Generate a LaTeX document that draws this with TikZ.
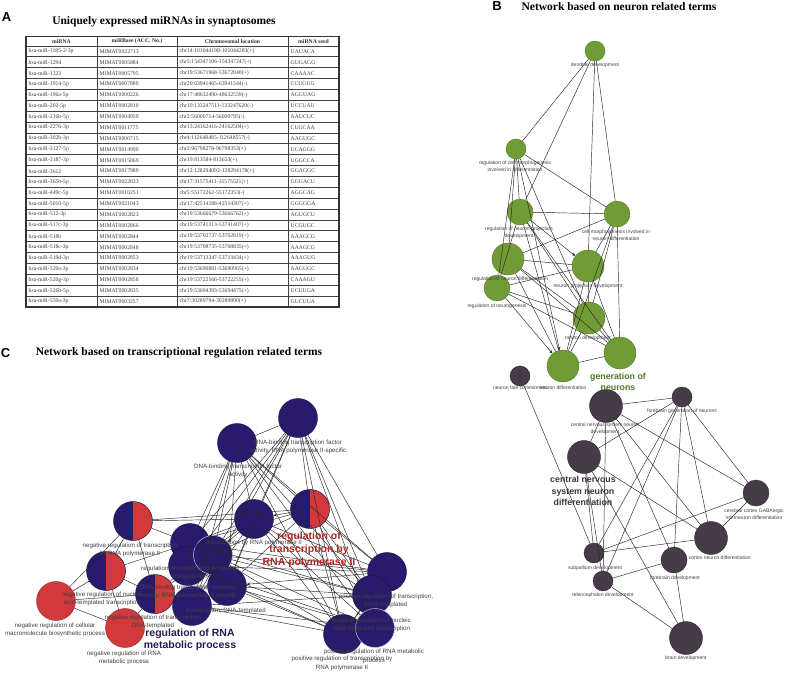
\documentclass[tikz,border=0pt]{standalone}
\usepackage{fontspec}
\setmainfont{Liberation Serif}
\newfontfamily\lsans{Liberation Sans}
\usetikzlibrary{arrows.meta}
\definecolor{gfill}{HTML}{719C35}
\definecolor{gline}{HTML}{557A25}
\definecolor{dfill}{HTML}{463C48}
\definecolor{dline}{HTML}{2E2630}
\definecolor{bfill}{HTML}{2A1A6E}
\definecolor{bline}{HTML}{1A1048}
\definecolor{rfill}{HTML}{D2393A}
\definecolor{glab}{HTML}{4E7A22}
\definecolor{rlab}{HTML}{B0282A}
\definecolor{blab}{HTML}{241C55}
\definecolor{dlab}{HTML}{3B3340}
\tikzset{
  gn/.style={circle, draw=gline, line width=0.4pt, fill=gfill, inner sep=0pt, minimum size=#1},
  dn/.style={circle, draw=dline, line width=0.4pt, fill=dfill, inner sep=0pt, minimum size=#1},
  bn/.style={circle, draw=bline, line width=0.4pt, fill=bfill, inner sep=0pt, minimum size=39pt},
  wn/.style={circle, draw=white!75!bfill, line width=0.5pt, fill=bfill, inner sep=0pt, minimum size=39pt},
  rn/.style={circle, draw=rfill!70!black, line width=0.4pt, fill=rfill, inner sep=0pt, minimum size=39pt},
  hn/.style={circle, draw=bline, line width=0.4pt, fill=bfill, inner sep=0pt, minimum size=39pt,
    path picture={\fill[rfill] (path picture bounding box.north) rectangle (path picture bounding box.south east);}},
  lab/.style={font=\lsans\fontsize{5}{7}\selectfont, text=black!75, align=center, inner sep=0pt},
  labc/.style={font=\lsans\fontsize{6.2}{8.3}\selectfont, text=black!75, align=center, inner sep=0pt},
  edge/.style={draw=black!85, line width=0.45pt},
  aedge/.style={draw=black!85, line width=0.45pt, -{Stealth[length=3.5pt,width=3pt]}},
  tcell/.style={font=\fontsize{5.7}{6}\selectfont, text=black!75, anchor=west, inner sep=0pt},
  thead/.style={font=\bfseries\fontsize{5.7}{6}\selectfont, text=black!80, inner sep=0pt},
  ttl/.style={font=\bfseries\fontsize{11.5}{13}\selectfont, inner sep=0pt},
  plet/.style={font=\lsans\bfseries\fontsize{13}{14}\selectfont, inner sep=0pt}
}
\begin{document}
\begin{tikzpicture}[x=1pt,y=-1pt]
\useasboundingbox[fill=white] (0,0) rectangle (787,672);

% ---------- Panel A ----------
\node[plet] (LA) at (6.5,17) {A};
\node[ttl] (TA) at (164,22) {Uniquely expressed miRNAs in synaptosomes};
\node[thead] (h1) at (61.5,41.3) {miRNA};
\node[thead] (h2) at (137,41.3) {miRBase (ACC. No.)};
\node[thead] (h3) at (232.5,41.3) {Chromosomal location};
\node[thead] (h4) at (313.5,41.3) {miRNA seed};
\foreach \ma/\mb/\mc/\md [count=\i] in {
hsa-miR-1185-2-3p/MIMAT0022713/chr14:101044198-101044283(+)/UAUACA,
hsa-miR-1294/MIMAT0005884/chr5:154347106-154347247(+)/GUGAGG,
hsa-miR-1323/MIMAT0005795/chr19:53671968-53672040(+)/CAAAAC,
hsa-miR-1914-5p/MIMAT0007889/chr20:63941465-63941544(-)/CCUGUG,
hsa-miR-196a-5p/MIMAT0000226/chr17:48632490-48632559(-)/AGGUAG,
hsa-miR-202-5p/MIMAT0002810/chr10:133247511-133247620(-)/UCCUAU,
hsa-miR-216b-5p/MIMAT0004959/chr2:56000714-56000795(-)/AAUCUC,
hsa-miR-2276-3p/MIMAT0011775/chr13:24162416-24162504(+)/CUGCAA,
hsa-miR-302b-3p/MIMAT0000715/chr4:112648485-112648557(-)/AAGUGC,
hsa-miR-3127-5p/MIMAT0014990/chr2:96798278-96798353(+)/UCAGGG,
hsa-miR-3187-3p/MIMAT0015069/chr19:813584-813653(+)/UGGCCA,
hsa-miR-3612/MIMAT0017989/chr12:128294092-128294178(+)/GGAGGC,
hsa-miR-365b-5p/MIMAT0022833/chr17:31575411-31575521(+)/GGGACU,
hsa-miR-449c-5p/MIMAT0010251/chr5:55172262-55172353(-)/AGGCAG,
hsa-miR-5010-5p/MIMAT0021043/chr17:42514188-42514307(+)/GGGGGA,
hsa-miR-512-3p/MIMAT0002823/chr19:53666679-53666762(+)/AGUGCU,
hsa-miR-517c-3p/MIMAT0002866/chr19:53741313-53741407(+)/UCGUGC,
hsa-miR-518b/MIMAT0002844/chr19:53702737-53702819(+)/AAAGCG,
hsa-miR-518c-3p/MIMAT0002848/chr19:53708735-53708835(+)/AAAGCG,
hsa-miR-519d-3p/MIMAT0002853/chr19:53713347-53713434(+)/AAAGUG,
hsa-miR-520a-3p/MIMAT0002834/chr19:53690881-53690965(+)/AAGUGC,
hsa-miR-520g-3p/MIMAT0002858/chr19:53722166-53722255(+)/CAAAGU,
hsa-miR-526b-5p/MIMAT0002835/chr19:53694393-53694475(+)/UCUUGA,
hsa-miR-550a-3p/MIMAT0003257/chr7:30289794-30289890(+)/GUCUUA}{
  \pgfmathsetmacro\yy{46+(\i-0.5)*10.875}
  \node[tcell] (ra\i) at (28.5,\yy) {\ma};
  \node[tcell] (rb\i) at (99.5,\yy) {\mb};
  \node[tcell] (rc\i) at (179.5,\yy) {\mc};
  \node[tcell] (rd\i) at (290.5,\yy) {\md};
}
\foreach \k in {0,...,23}{
  \draw[black!75, line width=0.8pt] (26,{46+\k*10.875}) -- (339,{46+\k*10.875});
}
\foreach \xx in {97,177,288}{
  \draw[black!75, line width=0.8pt] (\xx,36.7) -- (\xx,307);
}
\draw[black!80, line width=1.3pt] (26,36.7) rectangle (339,307);

% ---------- Panel B ----------
\node[plet] (LB) at (497,6.5) {B};
\node[ttl] (TB) at (619,6.5) {Network based on neuron related terms};

\node[gn=20pt] (D) at (595,51) {};
\node[gn=20pt] (RCM) at (516,149) {};
\node[gn=26pt] (RNPD) at (520,212) {};
\node[gn=26pt] (CMND) at (617,214) {};
\node[gn=32pt] (RND) at (508,259) {};
\node[gn=32pt] (NPD) at (588,266) {};
\node[gn=26pt] (RN) at (497,288) {};
\node[gn=32pt] (ND) at (589,318) {};
\node[gn=32pt] (GN) at (620,353) {};
\node[gn=32pt] (NDf) at (563,366) {};

\node[dn=20pt] (NFC) at (520,376) {};
\node[dn=33pt] (CNSD) at (606,406) {};
\node[dn=20pt] (FGN) at (682,397) {};
\node[dn=33pt] (CNSDf) at (584,457) {};
\node[dn=26pt] (GABA) at (756,493) {};
\node[dn=33pt] (CCND) at (711,538) {};
\node[dn=20pt] (SUB) at (594,553) {};
\node[dn=26pt] (FD) at (674,560) {};
\node[dn=20pt] (TEL) at (603,581) {};
\node[dn=33pt] (BD) at (686,638) {};

\foreach \a/\b in {D/RCM, D/RNPD, D/NPD, D/CMND,
  RCM/RNPD, RCM/RND, RCM/RN, RCM/CMND, RCM/ND,
  RNPD/CMND, RNPD/ND, RNPD/NDf, RNPD/GN, RNPD/RN,
  RND/CMND, RND/NPD, RND/GN, RND/ND, RND/NDf,
  RN/NPD, RN/ND, RN/GN,
  CMND/NPD, CMND/ND, CMND/GN, CMND/NDf,
  NPD/ND, NPD/GN, NPD/NDf, ND/GN, ND/NDf, GN/NDf,
  NFC/SUB, CNSD/FGN, CNSD/CNSDf, CNSD/GABA, CNSD/CCND, CNSD/FD, CNSD/TEL,
  FGN/CNSDf, FGN/GABA, FGN/CCND, FGN/FD, FGN/SUB, FGN/TEL,
  CNSDf/CCND, CNSDf/SUB, CNSDf/TEL, CNSDf/BD,
  GABA/CCND, GABA/SUB, CCND/SUB, FD/TEL, FD/BD, TEL/BD}{
  \draw[edge] (\a) -- (\b);
}
\draw[aedge] (RNPD) -- (NPD);
\draw[aedge] (RN) -- (NDf);
\draw[aedge] (RCM) -- (NDf);

\node[lab] (lD) at (595,65) {dendrite development};
\node[lab] (lRCM) at (515,166) {regulation of cell morphogenesis\\involved in differentiation};
\node[lab] (lRNPD) at (519,232.5) {regulation of neuron projection\\development};
\node[lab] (lCMND) at (616,235) {cell morphogenesis involved in\\neuron differentiation};
\node[lab] (lRND) at (510,279) {regulation of neuron differentiation};
\node[lab] (lNPD) at (588,286) {neuron projection development};
\node[lab] (lRN) at (497,306) {regulation of neurogenesis};
\node[lab] (lND) at (588,338) {neuron development};
\node[font=\lsans\bfseries\fontsize{8.8}{10.5}\selectfont, text=glab, align=center, inner sep=0pt] (lGN) at (618,382) {generation of\\neurons};
\node[lab] (lNDf) at (563,388) {neuron differentiation};
\node[lab] (lNFC) at (520,388) {neuron fate commitment};
\node[lab] (lCNSD) at (605,429) {central nervous system neuron\\development};
\node[lab] (lFGN) at (682,411) {forebrain generation of neurons};
\node[font=\lsans\bfseries\fontsize{8.8}{11.5}\selectfont, text=dlab, align=center, inner sep=0pt] (lCNSDf) at (583,491) {central nervous\\system neuron\\differentiation};
\node[lab] (lGABA) at (754,514) {cerebral cortex GABAergic\\interneuron differentiation};
\node[lab] (lCCND) at (710,558) {cerebral cortex neuron differentiation};
\node[lab] (lSUB) at (595,568) {subpallium development};
\node[lab] (lFD) at (675,578) {forebrain development};
\node[lab] (lTEL) at (603,595) {telencephalon development};
\node[lab] (lBD) at (686,658) {brain development};

% ---------- Panel C ----------
\node[plet] (LC) at (5.5,353) {C};
\node[ttl] (TC) at (179,353) {Network based on transcriptional regulation related terms};

\node[bn] (DBTF2) at (298,418) {};
\node[bn] (DBTF) at (237,443) {};
\node[hn] (RTP2) at (310,509) {};
\node[bn] (TP2) at (254,519) {};
\node[bn] (RNAT) at (190,543) {};
\node[bn] (DBTA) at (188,566) {};
\node[wn] (RTDT) at (213,555) {};
\node[bn] (TDT) at (227,586) {};
\node[bn] (RRMP) at (192,606) {};
\node[hn] (NRTP2) at (133,521) {};
\node[hn] (NRNAT) at (106,571) {};
\node[hn] (NRTDT) at (155,594) {};
\node[rn] (NRCMBP) at (56,601) {};
\node[rn] (NRRMP) at (125,628) {};
\node[bn] (PRTDT) at (387,572) {};
\node[bn] (PRNAT) at (372,595) {};
\node[bn] (PRTP2) at (343,634) {};
\node[wn] (PRRMP) at (375,628) {};

\foreach \a/\b in {DBTF2/DBTF, DBTF2/RTP2, DBTF2/TP2, DBTF2/RNAT, DBTF2/RTDT, DBTF2/DBTA, DBTF2/TDT,
  DBTF2/PRTDT, DBTF2/PRNAT, DBTF2/PRRMP, DBTF2/PRTP2, DBTF2/RRMP,
  DBTF/RTP2, DBTF/TP2, DBTF/RNAT, DBTF/RTDT, DBTF/DBTA, DBTF/TDT, DBTF/PRTDT, DBTF/PRNAT,
  DBTF/PRTP2, DBTF/RRMP, DBTF/PRRMP,
  RTP2/NRTP2, RTP2/PRTP2, RTP2/PRTDT, RTP2/PRNAT, RTP2/PRRMP, RTP2/RNAT, RTP2/TDT, RTP2/DBTA,
  TP2/NRTP2, TP2/RNAT, TP2/TDT, TP2/PRTDT, TP2/PRNAT, TP2/PRRMP, TP2/PRTP2, TP2/DBTA, TP2/RRMP,
  NRTP2/NRNAT, NRTP2/NRTDT, NRTP2/NRCMBP, NRTP2/RNAT,
  NRNAT/NRTDT, NRNAT/NRCMBP, NRNAT/NRRMP, NRNAT/RNAT,
  NRTDT/NRCMBP, NRTDT/NRRMP, NRTDT/RTDT, NRTDT/DBTA, NRCMBP/NRRMP,
  RNAT/RTDT, RNAT/DBTA, RNAT/TDT, RNAT/RRMP, RNAT/PRNAT, RNAT/PRTDT,
  RTDT/DBTA, RTDT/TDT, RTDT/RRMP, RTDT/PRTDT, RTDT/PRNAT, RTDT/PRRMP, RTDT/PRTP2,
  DBTA/TDT, DBTA/RRMP, DBTA/PRTDT, DBTA/PRTP2, DBTA/PRRMP,
  TDT/RRMP, TDT/PRNAT, TDT/PRRMP, TDT/PRTP2,
  RRMP/PRRMP, RRMP/PRNAT, RRMP/PRTP2,
  PRTDT/PRNAT, PRTDT/PRRMP, PRTDT/PRTP2, PRNAT/PRRMP, PRNAT/PRTP2, PRRMP/PRTP2}{
  \draw[edge] (\a) -- (\b);
}
\draw[aedge] (RTP2) -- (TP2);
\draw[aedge] (PRTDT) -- (TDT);
\draw[aedge] (TP2) -- (RTDT);

\node[labc] (lDBTF2) at (298,447) {DNA-binding transcription factor\\activity, RNA polymerase II-specific};
\node[labc] (lDBTF) at (238,471) {DNA-binding transcription factor\\activity};
\node[labc] (lTP2) at (254,543) {transcription by RNA polymerase II};
\node[labc] (lNRTP2) at (130,550) {negative regulation of transcription\\by RNA polymerase II};
\node[labc] (lRNAT) at (190,573) {regulation of nucleic acid-templated\\transcription};
\node[labc] (lDBTA) at (188,592) {DNA-binding transcription activator\\activity, RNA polymerase II-specific};
\node[labc] (lNRNAT) at (102,599) {negative regulation of nucleic\\acid-templated transcription};
\node[labc] (lTDT) at (226,611) {transcription, DNA-templated};
\node[labc] (lNRTDT) at (153,622) {negative regulation of transcription,\\DNA-templated};
\node[labc] (lNRCMBP) at (55,630) {negative regulation of cellular\\macromolecule biosynthetic process};
\node[labc] (lNRRMP) at (124,658) {negative regulation of RNA\\metabolic process};
\node[labc] (lPRTDT) at (386,601) {positive regulation of transcription,\\DNA-templated};
\node[labc] (lPRNAT) at (372,625) {positive regulation of nucleic\\acid-templated transcription};
\node[labc] (lPRRMP) at (374,656.5) {positive regulation of RNA metabolic\\process};
\node[labc] (lPRTP2) at (342,663.5) {positive regulation of transcription by\\RNA polymerase II};
\node[font=\lsans\bfseries\fontsize{10.5}{12.5}\selectfont, text=blab, align=center, inner sep=0pt] (lRRMP) at (190,640) {regulation of RNA\\metabolic process};
\node[font=\lsans\bfseries\fontsize{10.5}{13}\selectfont, text=rlab, align=center, inner sep=0pt] (lRTP2) at (309,550) {regulation of\\transcription by\\RNA polymerase II};
\end{tikzpicture}
\end{document}
